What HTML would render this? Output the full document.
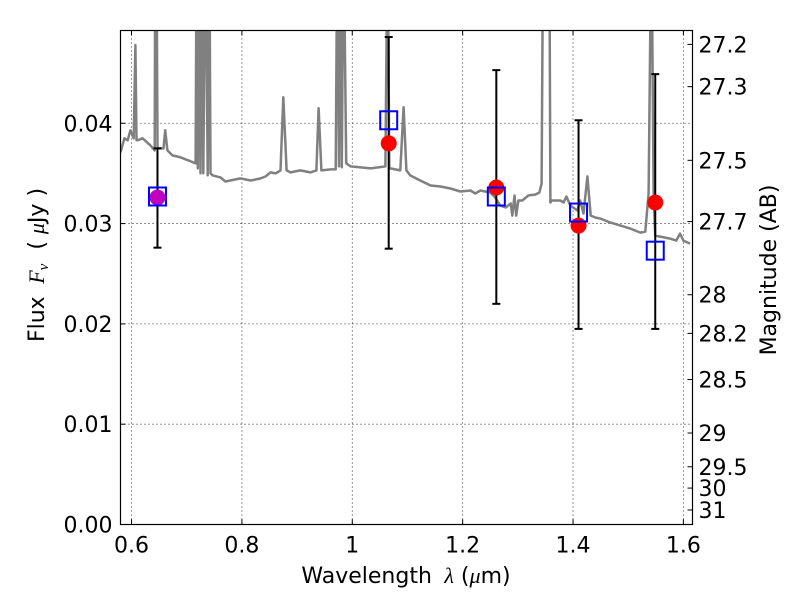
<!DOCTYPE html>
<html><head><meta charset="utf-8">
<style>
html,body{margin:0;padding:0;background:#fff;}
svg{display:block;font-family:"DejaVu Sans","Liberation Sans",sans-serif;}
</style></head>
<body>
<svg id="chart" width="800" height="600" viewBox="0 0 800 600" xmlns="http://www.w3.org/2000/svg"></svg>
<script>
// ---- data ----
const specWave = [0.580,0.587,0.593,0.598,0.604,0.607,0.609,0.611,0.620,0.634,0.642,0.643,0.645,0.647,0.658,0.661,0.665,0.674,0.689,0.703,0.716,0.718,0.720,0.722,0.725,0.727,0.730,0.734,0.738,0.741,0.743,0.747,0.761,0.770,0.779,0.797,0.816,0.834,0.843,0.852,0.861,0.870,0.875,0.881,0.888,0.906,0.924,0.935,0.939,0.944,0.961,0.970,0.973,0.976,0.979,0.981,0.984,0.989,0.997,1.015,1.033,1.047,1.060,1.064,1.067,1.069,1.087,1.093,1.098,1.105,1.123,1.142,1.160,1.178,1.196,1.214,1.223,1.232,1.250,1.259,1.268,1.278,1.287,1.290,1.294,1.297,1.301,1.308,1.319,1.332,1.339,1.343,1.346,1.357,1.359,1.361,1.377,1.383,1.388,1.395,1.408,1.413,1.419,1.426,1.432,1.441,1.450,1.468,1.486,1.504,1.522,1.531,1.537,1.542,1.546,1.549,1.558,1.576,1.587,1.594,1.600,1.612];
const specFlux = [0.0371,0.0385,0.0383,0.0393,0.0385,0.0478,0.0383,0.0383,0.0385,0.0378,0.0373,0.0600,0.0600,0.0375,0.0375,0.0393,0.0373,0.0368,0.0366,0.0363,0.0360,0.0600,0.0355,0.0600,0.0350,0.0600,0.0350,0.0600,0.0348,0.0600,0.0350,0.0348,0.0346,0.0342,0.0343,0.0345,0.0343,0.0345,0.0347,0.0351,0.0350,0.0353,0.0426,0.0353,0.0351,0.0353,0.0351,0.0353,0.0415,0.0353,0.0354,0.0354,0.0600,0.0357,0.0600,0.0356,0.0600,0.0360,0.0357,0.0356,0.0355,0.0356,0.0357,0.0600,0.0355,0.0355,0.0353,0.0416,0.0353,0.0348,0.0343,0.0338,0.0337,0.0335,0.0332,0.0333,0.0330,0.0333,0.0331,0.0326,0.0318,0.0316,0.0320,0.0308,0.0328,0.0308,0.0323,0.0323,0.0328,0.0329,0.0331,0.0340,0.0600,0.0600,0.0321,0.0323,0.0323,0.0321,0.0327,0.0318,0.0313,0.0323,0.0310,0.0347,0.0308,0.0306,0.0305,0.0301,0.0298,0.0295,0.0291,0.0292,0.0330,0.0600,0.0330,0.0288,0.0287,0.0285,0.0283,0.0290,0.0283,0.0280];
const photWave = [0.647,1.066,1.261,1.410,1.549];
const modelFlux = [0.0327,0.0403,0.0327,0.0311,0.0273];
const obsFlux = [0.0326,0.0380,0.0336,0.0298,0.0321];
const errLow = [0.0276,0.0275,0.0220,0.0195,0.0195];
const errHigh = [0.0375,0.0486,0.0453,0.0403,0.0449];
const obsColors = ['#bf00bf','red','red','red','red'];
const xTicks = [0.6,0.8,1.0,1.2,1.4,1.6];
const xTickLabels = ['0.6','0.8','1','1.2','1.4','1.6'];
const yTicks = [0,0.01,0.02,0.03,0.04];
const yTickLabels = ['0.00','0.01','0.02','0.03','0.04'];
const magTicks = [27.2,27.3,27.5,27.7,28,28.2,28.5,29,29.5,30,31];

// ---- layout ----
const L=120.5, R=692.5, T=30.5, B=524.5;
const xMin=0.58, xMax=1.6165, yMin=0, yMax=0.04925;
const X=v=>L+(v-xMin)/(xMax-xMin)*(R-L);
const Y=v=>B-(v-yMin)/(yMax-yMin)*(B-T);
const NS='http://www.w3.org/2000/svg';
const svg=document.getElementById('chart');
function mk(tag,attrs,parent){const e=document.createElementNS(NS,tag);for(const k in attrs)e.setAttribute(k,attrs[k]);(parent||svg).appendChild(e);return e;}
const FS=22;

const defs=mk('defs',{});
const cp=mk('clipPath',{id:'plotclip'},defs);
mk('rect',{x:L,y:T,width:R-L,height:B-T},cp);

// grid
const grid=mk('g',{});


xTicks.forEach(v=>{mk('line',{x1:X(v),x2:X(v),y1:T,y2:B,stroke:'#000','stroke-width':0.8,'stroke-dasharray':'1,3'},grid);});
yTicks.forEach(v=>{mk('line',{x1:L,x2:R,y1:Y(v),y2:Y(v),stroke:'#000','stroke-width':0.8,'stroke-dasharray':'1,3'},grid);});

// spectrum
const pts=specWave.map((w,i)=>X(w).toFixed(1)+','+Y(specFlux[i]).toFixed(1)).join(' ');
const spec=mk('polyline',{points:pts,fill:'none',stroke:'#808080','stroke-width':2.5,'stroke-linejoin':'round','clip-path':'url(#plotclip)'});



// error bars
photWave.forEach((w,i)=>{
  const g=mk('g',{'clip-path':'url(#plotclip)'});
  
  
  const x=X(w);
  mk('line',{x1:x,x2:x,y1:Y(errLow[i]),y2:Y(errHigh[i]),stroke:'#000','stroke-width':2},g);
  mk('line',{x1:x-4,x2:x+4,y1:Y(errLow[i]),y2:Y(errLow[i]),stroke:'#000','stroke-width':2},g);
  mk('line',{x1:x-4,x2:x+4,y1:Y(errHigh[i]),y2:Y(errHigh[i]),stroke:'#000','stroke-width':2},g);
});
// observed points
photWave.forEach((w,i)=>{
  const c=mk('circle',{cx:X(w),cy:Y(obsFlux[i]),r:8,fill:obsColors[i]});
  
  
});
// model squares
photWave.forEach((w,i)=>{
  const s=mk('rect',{x:X(w)-8.5,y:Y(modelFlux[i])-9,width:17,height:18,fill:'none',stroke:'#0000ff','stroke-width':2});
  
  
});

// frame
const fr=mk('rect',{x:L,y:T,width:R-L,height:B-T,fill:'none',stroke:'#000','stroke-width':1.2});



// x ticks
xTicks.forEach((v,i)=>{
  mk('line',{x1:X(v),x2:X(v),y1:B,y2:B-5,stroke:'#000'});
  mk('line',{x1:X(v),x2:X(v),y1:T,y2:T+5,stroke:'#000'});
  const t=mk('text',{x:X(v),y:B+28,'font-size':FS,'text-anchor':'middle'});
  t.textContent=xTickLabels[i];
  
  
});
// y ticks
yTicks.forEach((v,i)=>{
  mk('line',{x1:L,x2:L+5,y1:Y(v),y2:Y(v),stroke:'#000'});
  const t=mk('text',{x:L-8,y:Y(v)+8,'font-size':FS,'text-anchor':'end'});
  t.textContent=yTickLabels[i];
  
  
});
// mag ticks
magTicks.forEach(m=>{
  const f=Math.pow(10,(23.9-m)/2.5);
  const y=Y(f);
  mk('line',{x1:R,x2:R-5,y1:y,y2:y,stroke:'#000'});
  const t=mk('text',{x:R+6,y:y+8,'font-size':FS});
  t.textContent=String(m);
  
  
});

// axis titles
const xt=mk('text',{x:406,y:583,'font-size':FS,'text-anchor':'middle'});
xt.innerHTML='Wavelength <tspan font-style="italic" font-family="Liberation Serif, serif">&#160;λ</tspan> (<tspan font-style="italic" font-family="Liberation Serif, serif">μ</tspan>m)';


const yt=mk('text',{x:0,y:0,'font-size':FS,'text-anchor':'middle',transform:'translate(44,265) rotate(-90)'});
yt.innerHTML='Flux <tspan font-style="italic" font-family="Liberation Serif, serif">&#160;F</tspan><tspan font-style="italic" font-family="Liberation Serif, serif" font-size="15" dy="4">ν</tspan><tspan dy="-4">&#160;&#160;( </tspan><tspan font-style="italic" font-family="Liberation Serif, serif">μ</tspan>Jy )';


const rt=mk('text',{x:0,y:0,'font-size':FS,'text-anchor':'middle',transform:'translate(776,270) rotate(-90)'});
rt.textContent='Magnitude (AB)';


</script>
</body></html>
